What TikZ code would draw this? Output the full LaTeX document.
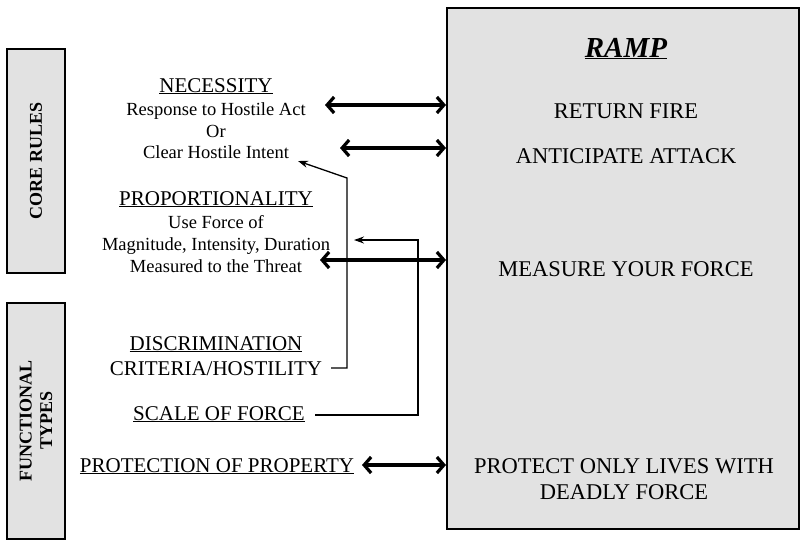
\documentclass[tikz,border=0pt]{standalone}
\usepackage{fontspec}
\setmainfont{Liberation Serif}
\usetikzlibrary{arrows.meta}
\definecolor{panelgray}{HTML}{E2E2E2}
\tikzset{
  panel/.style={draw=black, line width=1.8pt, fill=panelgray, inner sep=0pt},
  sidelabel/.style={font=\fontsize{18}{20.5}\selectfont\bfseries, rotate=90, align=center},
  headtext/.style={font=\fontsize{21}{25}\selectfont, anchor=base, inner sep=0pt},
  subtext/.style={font=\fontsize{18.5}{22}\selectfont, anchor=base, inner sep=0pt},
  ramptext/.style={font=\fontsize{22.5}{27}\selectfont, anchor=base, inner sep=0pt},
  twoway/.style={line width=3.2pt,
    {Straight Barb[length=7pt,width=16pt]}-{Straight Barb[length=7pt,width=16pt]}},
  feed/.style={line width=1.3pt, -{Stealth[length=10pt,width=7pt]}},
}
\begin{document}
\begin{tikzpicture}[x=1pt,y=-1pt]
\useasboundingbox (0,0) rectangle (802,542);

% side panels
\node[panel, minimum width=58pt, minimum height=224pt, anchor=north west] (core) at (6,48) {};
\node[sidelabel] (corelbl) at (core.center) {CORE RULES};
\node[panel, minimum width=58pt, minimum height=236pt, anchor=north west] (func) at (6,302) {};
\node[sidelabel] (funclbl) at (func.center) {FUNCTIONAL\\TYPES};

% RAMP panel
\node[panel, minimum width=352pt, minimum height=521pt, anchor=north west] (ramp) at (446,7) {};
\node[ramptext, font=\fontsize{29}{33}\selectfont] (ramphead) at (626,57) {\underline{\textbf{\textit{RAMP}}}};
\node[ramptext] (retfire) at (626,118) {RETURN FIRE};
\node[ramptext] (anticip) at (626,163) {ANTICIPATE ATTACK};
\node[ramptext] (measure) at (626,276) {MEASURE YOUR FORCE};
\node[ramptext] (protect1) at (624,473) {PROTECT ONLY LIVES WITH};
\node[ramptext] (protect2) at (624,499) {DEADLY FORCE};

% core rules column
\node[headtext] (necess) at (216,92) {\underline{NECESSITY}};
\node[subtext] (resp) at (216,115) {Response to Hostile Act};
\node[subtext] (orword) at (216,137) {Or};
\node[subtext] (intent) at (216,158) {Clear Hostile Intent};
\node[headtext] (propor) at (216,205) {\underline{PROPORTIONALITY}};
\node[subtext] (useforce) at (216,228) {Use Force of};
\node[subtext] (magn) at (216,250) {Magnitude, Intensity, Duration};
\node[subtext] (threat) at (216,272) {Measured to the Threat};

% functional types column
\node[headtext] (discr) at (216,350) {\underline{DISCRIMINATION}};
\node[headtext] (crit) at (216,375) {CRITERIA/HOSTILITY};
\node[headtext] (scale) at (219,420) {\underline{SCALE OF FORCE}};
\node[headtext] (property) at (217,472) {\underline{PROTECTION OF PROPERTY}};

% two-way links to the RAMP panel
\coordinate (l1) at (325,105);
\coordinate (l2) at (340,148);
\coordinate (l3) at (320,260);
\coordinate (l4) at (362,465);
\draw[twoway] (l1) -- (l1 -| ramp.west);
\draw[twoway] (l2) -- (l2 -| ramp.west);
\draw[twoway] (l3) -- (l3 -| ramp.west);
\draw[twoway] (l4) -- (l4 -| ramp.west);

% feedback lines
\coordinate (critend) at (331,368);
\coordinate (intenttip) at (298,161);
\draw[feed] (critend) -- (347,368) -- (347,178) -- (intenttip);
\coordinate (scaleend) at (315,415);
\coordinate (magntip) at (354,240);
\draw[feed] (scaleend) -- (418,415) -- (418,240) -- (magntip);
\end{tikzpicture}
\end{document}
